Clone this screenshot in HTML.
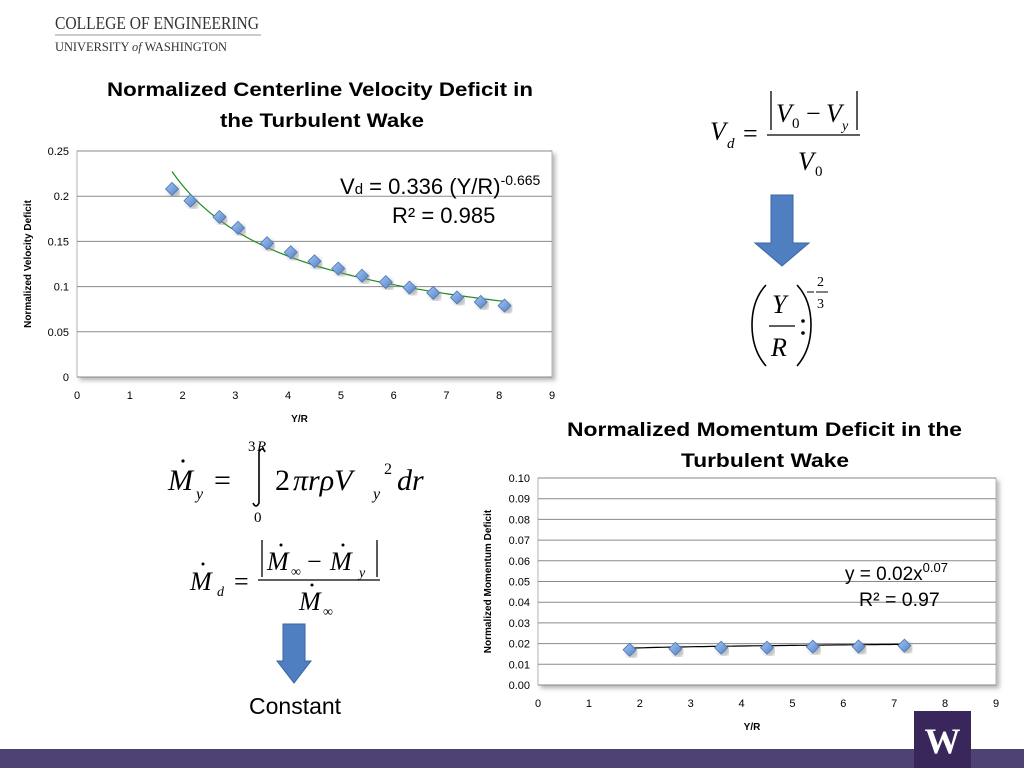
<!DOCTYPE html>
<html><head><meta charset="utf-8"><style>
html,body{margin:0;padding:0;background:#fff}
svg{display:block}
.t{font-family:"Liberation Sans",sans-serif}
.m{font-family:"Liberation Serif",serif;font-style:italic}
.r{font-family:"Liberation Serif",serif}
</style></head><body>
<svg id="s" width="1024" height="768" viewBox="0 0 1024 768" xmlns="http://www.w3.org/2000/svg">
<defs>
<linearGradient id="dg" x1="0" y1="0" x2="1" y2="1"><stop offset="0" stop-color="#a9c6f0"/><stop offset="1" stop-color="#4f81c7"/></linearGradient>
<filter id="sh" x="-5%" y="-5%" width="115%" height="115%"><feDropShadow dx="3" dy="3" stdDeviation="2" flood-color="#888" flood-opacity="0.6"/></filter>
</defs>
<g>
<text x="55" y="29" class="r" font-size="17.5" fill="#333" textLength="204" lengthAdjust="spacingAndGlyphs">COLLEGE OF ENGINEERING</text>
<line x1="55" y1="35" x2="261" y2="35" stroke="#999" stroke-width="1"/>
<text x="55" y="51" class="r" font-size="12.5" fill="#333" textLength="172" lengthAdjust="spacingAndGlyphs">UNIVERSITY <tspan font-style="italic">of</tspan> WASHINGTON</text>
</g>
<text x="107" y="96" class="t" font-size="19" font-weight="bold" textLength="426" lengthAdjust="spacingAndGlyphs">Normalized Centerline Velocity Deficit in</text>
<text x="220" y="127" class="t" font-size="19" font-weight="bold" textLength="204" lengthAdjust="spacingAndGlyphs">the Turbulent Wake</text>
<text x="567" y="436" class="t" font-size="19" font-weight="bold" textLength="395" lengthAdjust="spacingAndGlyphs">Normalized Momentum Deficit in the</text>
<text x="681" y="467" class="t" font-size="19" font-weight="bold" textLength="168" lengthAdjust="spacingAndGlyphs">Turbulent Wake</text>
<g id="c1"></g>
<g id="c2"></g>

<g fill="#000">
<text x="710" y="140" class="m" font-size="26">V</text>
<text x="727" y="148" class="m" font-size="15">d</text>
<text x="743" y="142" class="r" font-size="26">=</text>
<line x1="771" y1="91" x2="771" y2="130" stroke="#000" stroke-width="1.3"/>
<line x1="857" y1="91" x2="857" y2="130" stroke="#000" stroke-width="1.3"/>
<text x="776" y="122" class="m" font-size="26">V</text>
<text x="792" y="128" class="r" font-size="15">0</text>
<text x="806" y="122" class="r" font-size="26">−</text>
<text x="826" y="122" class="m" font-size="26">V</text>
<text x="842" y="130" class="m" font-size="14">y</text>
<line x1="767" y1="135" x2="860" y2="135" stroke="#000" stroke-width="1.3"/>
<text x="798" y="170" class="m" font-size="26">V</text>
<text x="815" y="176" class="r" font-size="15">0</text>
</g>
<path d="M771 195 H793 V243 H809 L782 266 L755 243 H771 Z" fill="#4f7fc0" stroke="#3a66a3" stroke-width="1"/>
<g fill="#000">
<path d="M766 285 Q752 300 752 325 Q752 350 766 366" fill="none" stroke="#000" stroke-width="1.6"/>
<path d="M797 285 Q811 300 811 325 Q811 350 797 366" fill="none" stroke="#000" stroke-width="1.6"/>
<text x="772" y="313" class="m" font-size="26">Y</text>
<line x1="769" y1="326" x2="795" y2="326" stroke="#000" stroke-width="1.3"/>
<text x="771" y="356" class="m" font-size="26">R</text>
<circle cx="803" cy="321" r="1.8"/><circle cx="803" cy="333" r="1.8"/>
<line x1="807" y1="292" x2="814" y2="292" stroke="#000" stroke-width="1"/>
<line x1="816" y1="292" x2="828" y2="292" stroke="#000" stroke-width="1"/>
<text x="817" y="286" class="r" font-size="14">2</text>
<text x="817" y="308" class="r" font-size="14">3</text>
</g>
<g fill="#000">
<text x="168" y="490" class="m" font-size="30">M</text>
<circle cx="183" cy="461" r="1.6"/>
<text x="196" y="499" class="m" font-size="16">y</text>
<text x="214" y="490" class="r" font-size="30">=</text>
<path d="M265 452 Q262 446 259 452 L259 503 Q256 509 253 503" fill="none" stroke="#000" stroke-width="1.6"/>
<text x="248" y="451" class="r" font-size="15">3</text><text x="257" y="451" class="m" font-size="15">R</text>
<text x="254" y="522" class="r" font-size="15">0</text>
<text x="275" y="490" class="r" font-size="30">2</text>
<text x="293" y="490" class="m" font-size="30">πrρV</text>
<text x="373" y="499" class="m" font-size="16">y</text>
<text x="384" y="474" class="r" font-size="16">2</text>
<text x="397" y="490" class="m" font-size="30">dr</text>
<text x="190" y="590" class="m" font-size="26">M</text>
<circle cx="203" cy="564" r="1.5"/>
<text x="217" y="596" class="m" font-size="14">d</text>
<text x="234" y="590" class="r" font-size="26">=</text>
<line x1="262" y1="540" x2="262" y2="577" stroke="#000" stroke-width="1.3"/>
<line x1="377" y1="540" x2="377" y2="577" stroke="#000" stroke-width="1.3"/>
<text x="267" y="570" class="m" font-size="26">M</text>
<circle cx="281" cy="545" r="1.5"/>
<text x="291" y="576" class="r" font-size="14">∞</text>
<text x="307" y="570" class="r" font-size="26">−</text>
<text x="330" y="570" class="m" font-size="26">M</text>
<circle cx="343" cy="545" r="1.5"/>
<text x="359" y="577" class="m" font-size="14">y</text>
<line x1="258" y1="580" x2="380" y2="580" stroke="#000" stroke-width="1.3"/>
<text x="299" y="610" class="m" font-size="26">M</text>
<circle cx="312" cy="585" r="1.5"/>
<text x="323" y="616" class="r" font-size="14">∞</text>
</g>
<path d="M283 624 H305 V661 H311 L294 683 L277 661 H283 Z" fill="#4f7fc0" stroke="#3a66a3" stroke-width="1"/>
<text x="249" y="714" class="t" font-size="23" fill="#000">Constant</text>
<rect x="0" y="749" width="1024" height="19" fill="#4e4273"/>
<rect x="914" y="711" width="57" height="57" fill="#39275b"/>
<text x="942.5" y="753" text-anchor="middle" class="r" font-size="36" font-weight="bold" fill="#fff">W</text>
</svg>
<script>
const velX=[1.8,2.15,2.7,3.05,3.6,4.05,4.5,4.95,5.4,5.85,6.3,6.75,7.2,7.65,8.1];
const velY=[0.208,0.195,0.177,0.165,0.148,0.138,0.128,0.120,0.112,0.105,0.099,0.093,0.088,0.083,0.079];
const velYTicks=["0","0.05","0.1","0.15","0.2","0.25"];
const xTicks=["0","1","2","3","4","5","6","7","8","9"];
const momX=[1.8,2.7,3.6,4.5,5.4,6.3,7.2];
const momY=[0.017,0.0175,0.018,0.018,0.0185,0.0186,0.019];
const momYTicks=["0.00","0.01","0.02","0.03","0.04","0.05","0.06","0.07","0.08","0.09","0.10"];
const NS="http://www.w3.org/2000/svg";
function mk(p,tag,a,txt){const e=document.createElementNS(NS,tag);for(const k in a)e.setAttribute(k,a[k]);if(txt!==undefined)e.textContent=txt;p.appendChild(e);return e;}
function chart(g,o){
  const sx=v=>o.x0+(v-0)/(9-0)*(o.x1-o.x0);
  const sy=v=>o.y0-(v/o.ymax)*(o.y0-o.y1);
  const bg=mk(g,'rect',{x:o.x0,y:o.y1,width:o.x1-o.x0,height:o.y0-o.y1,fill:'#fff',stroke:'#b5b5b5',filter:'url(#sh)'});
  
  o.yt.forEach((t,i)=>{const v=i*o.ystep;const y=sy(v);
    const l=mk(g,'line',{x1:o.x0,x2:o.x1,y1:y,y2:y,stroke:'#8a8a8a','stroke-width':1});
    
    const tx=mk(g,'text',{x:o.x0-8,y:y+4,'text-anchor':'end','font-size':11,class:'t',fill:'#000'},t);
    });
  xTicks.forEach((t,i)=>{const tx=mk(g,'text',{x:sx(i),y:o.y0+22,'text-anchor':'middle','font-size':11,class:'t',fill:'#000'},t);
    });
  const xt=mk(g,'text',{x:(o.x0+o.x1)/2-15,y:o.y0+45,'text-anchor':'middle','font-size':10,'font-weight':'bold',class:'t'},'Y/R');
  
  const cy=(o.y0+o.y1)/2;
  const yt=mk(g,'text',{x:o.ytx,y:cy,'text-anchor':'middle','font-size':10,'font-weight':'bold',class:'t',transform:`rotate(-90 ${o.ytx} ${cy})`},o.ytitle);
  
  let d='';const n=60;for(let i=0;i<=n;i++){const x=o.tx0+(o.tx1-o.tx0)*i/n;d+=(i?'L':'M')+sx(x).toFixed(1)+' '+sy(o.fit(x)).toFixed(1);}
  const tl=mk(g,'path',{d:d,fill:'none',stroke:o.tcol,'stroke-width':1.2});
  
  o.xs.forEach((x,i)=>{const px=sx(x),py=sy(o.ys[i]),r=6.5;
    const p=mk(g,'path',{d:`M${px} ${py-r}L${px+r} ${py}L${px} ${py+r}L${px-r} ${py}Z`,fill:'url(#dg)',stroke:'#4a76b8','stroke-width':0.8,filter:'url(#sh)'});
    });
}
chart(document.getElementById('c1'),{x0:77,x1:552,y0:377,y1:151,ymax:0.25,ystep:0.05,yt:velYTicks,ytx:31,ytitle:'Normalized Velocity Deficit',
  xs:velX,ys:velY,fit:x=>0.336*Math.pow(x,-0.665),tx0:1.8,tx1:8.1,tcol:'#1d8a1d'});
chart(document.getElementById('c2'),{x0:538,x1:996,y0:685,y1:478,ymax:0.10,ystep:0.01,yt:momYTicks,ytx:491,ytitle:'Normalized Momentum Deficit',
  xs:momX,ys:momY,fit:x=>0.0171*Math.pow(x,0.07),tx0:1.8,tx1:7.2,tcol:'#000'});
const g1=document.getElementById('c1');
const e1=mk(g1,'text',{x:340,y:194,'font-size':22,class:'t'});


e1.innerHTML='V<tspan font-size="15">d</tspan> = 0.336 (Y/R)<tspan font-size="14" dy="-9">-0.665</tspan>';
const r1=mk(g1,'text',{x:392,y:223,'font-size':22,class:'t'},'R² = 0.985');


const g2=document.getElementById('c2');
const e2=mk(g2,'text',{x:845,y:580,'font-size':19,class:'t'});


e2.innerHTML='y = 0.02x<tspan font-size="13" dy="-8">0.07</tspan>';
const r2=mk(g2,'text',{x:859,y:606,'font-size':19.5,class:'t'},'R² = 0.97');


</script>
</body></html>
